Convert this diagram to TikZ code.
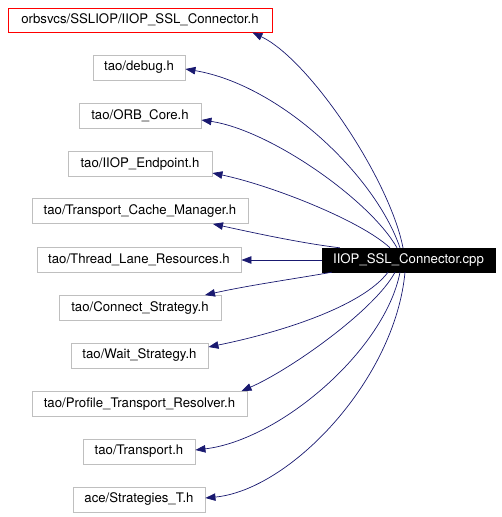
\documentclass[tikz,border=0pt]{standalone}
\usepackage{fontspec}
\setmainfont{TeX Gyre Heros}
\usetikzlibrary{arrows.meta}
\definecolor{edgeblue}{HTML}{191970}
\definecolor{boxgray}{HTML}{BFBFBF}
\tikzset{
  filebox/.style={draw=boxgray, line width=0.9pt, fill=white, inner sep=0pt, minimum height=25pt, font=\fontsize{13.2}{15}\selectfont, text=black},
  redbox/.style={filebox, draw=red},
  mainbox/.style={fill=black, draw=black, inner sep=0pt, minimum height=24pt, minimum width=173pt, font=\fontsize{13.2}{15}\selectfont, text=white},
  edge/.style={draw=edgeblue, line width=0.7pt, -{Triangle[length=10pt,width=7.5pt]}}
}
\begin{document}
\begin{tikzpicture}[x=1pt,y=-1pt]
\useasboundingbox (0,0) rectangle (501,517);
\node[redbox, minimum width=264pt, minimum height=24pt] (n1) at (140,20) {orbsvcs/SSLIOP/IIOP\_SSL\_Connector.h};
\node[filebox, minimum width=92pt] (n2) at (139,67.5) {tao/debug.h};
\node[filebox, minimum width=122pt] (n3) at (140,115.5) {tao/ORB\_Core.h};
\node[filebox, minimum width=144pt] (n4) at (140,164) {tao/IIOP\_Endpoint.h};
\node[filebox, minimum width=216pt] (n5) at (140,211) {tao/Transport\_Cache\_Manager.h};
\node[filebox, minimum width=204pt] (n6) at (139,260) {tao/Thread\_Lane\_Resources.h};
\node[filebox, minimum width=162pt] (n7) at (140,308) {tao/Connect\_Strategy.h};
\node[filebox, minimum width=137pt] (n8) at (139.5,355.5) {tao/Wait\_Strategy.h};
\node[filebox, minimum width=215pt] (n9) at (139.5,404) {tao/Profile\_Transport\_Resolver.h};
\node[filebox, minimum width=112pt] (n10) at (139,451.5) {tao/Transport.h};
\node[filebox, minimum width=132pt] (n11) at (139,499.5) {ace/Strategies\_T.h};
\node[mainbox] (main) at (408.5,260) {IIOP\_SSL\_Connector.cpp};

\draw[edge] ([xshift=-5.5pt]main.north) .. controls (390,180) and (310,60) .. ([xshift=-20pt]n1.south east);
\draw[edge] ([xshift=-8.5pt]main.north) .. controls (375,175) and (280,85) .. ([yshift=-1.5pt]n2.east);
\draw[edge] ([xshift=-11.5pt]main.north) .. controls (370,200) and (270,130) .. ([yshift=-4.5pt]n3.east);
\draw[edge] ([xshift=-18.5pt]main.north) .. controls (360,220) and (270,185) .. ([yshift=-9pt]n4.east);
\draw[edge] ([xshift=18pt]main.north west) .. controls (300,243) and (250,232) .. ([xshift=73pt]n5.south);
\draw[edge] (main.west) -- (n6.east);
\draw[edge] ([xshift=10pt]main.south west) .. controls (300,278) and (250,285) .. ([xshift=65pt]n7.north);
\draw[edge] ([xshift=-20.5pt]main.south) .. controls (362,307) and (278,333) .. ([yshift=8.5pt]n8.east);
\draw[edge] ([xshift=-13.5pt]main.south) .. controls (375,310) and (290,370) .. ([xshift=102pt]n9.north);
\draw[edge] ([xshift=-8.5pt]main.south) .. controls (385,350) and (280,440) .. ([yshift=1.5pt]n10.east);
\draw[edge] ([xshift=-3.5pt]main.south) .. controls (395,380) and (290,490) .. ([yshift=1.5pt]n11.east);
\end{tikzpicture}
\end{document}
